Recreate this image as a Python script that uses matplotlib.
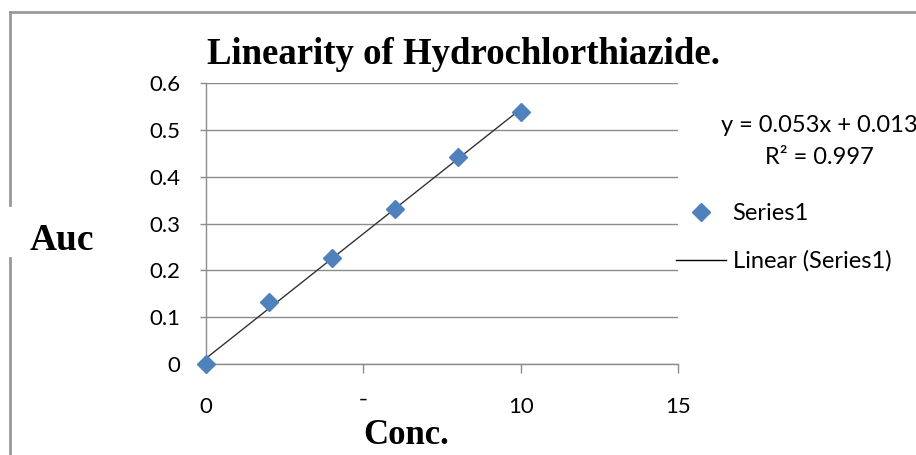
import numpy as np
import matplotlib
matplotlib.use("Agg")
import matplotlib.pyplot as plt
from matplotlib.lines import Line2D

# 데이터
conc = [0, 2, 4, 6, 8, 10]
auc = [0.0, 0.132, 0.226, 0.331, 0.442, 0.538]
x_ticks = [0, 5, 10, 15]
x_ticklabels = ["0", "\u00af", "10", "15"]
y_ticks = [0, 0.1, 0.2, 0.3, 0.4, 0.5, 0.6]
y_ticklabels = ["0", "0.1", "0.2", "0.3", "0.4", "0.5", "0.6"]
eq_text = "y = 0.053x + 0.013"
r2_text = "R\u00b2 = 0.997"

plt.rcParams['font.family'] = ['Lato', 'DejaVu Sans']
grid_c = "#8c8c8c"
blue = "#4F81BD"

fig = plt.figure(figsize=(9.16, 4.55), dpi=100)
ax = fig.add_axes([206/916, 1-364/455, (678-206)/916, (364-83)/455])

# 선형 회귀 (추세선)
slope, icpt = np.polyfit(conc, auc, 1)
xs = np.array([min(conc), max(conc)])
ax.plot(xs, slope*xs + icpt, color="#333333", lw=1.0, zorder=3)
ax.plot(conc, auc, linestyle="none", marker="D", ms=9.5, color=blue,
        markeredgecolor=blue, zorder=4, clip_on=False)

ax.set_xlim(0, 15)
ax.set_ylim(0, 0.6)
ax.set_xticks(x_ticks)
ax.set_xticklabels(x_ticklabels)
ax.set_yticks(y_ticks)
ax.set_yticklabels(y_ticklabels)
ax.tick_params(axis="x", direction="out", length=6.5, width=1, color=grid_c,
               pad=17, labelsize=16)
ax.tick_params(axis="y", direction="out", length=4.5, width=1, color=grid_c,
               pad=14, labelsize=16)
ax.yaxis.grid(True, color=grid_c, lw=1)
ax.set_axisbelow(True)
for s in ["top", "right"]:
    ax.spines[s].set_visible(False)
for s in ["left", "bottom"]:
    ax.spines[s].set_color(grid_c)
    ax.spines[s].set_linewidth(1)

# 제목, 축 이름
fig.text(464/916, 1-55/455, "Linearity of Hydrochlorthiazide.",
         family="Liberation Serif", weight="bold", fontsize=26.5,
         ha="center", va="center")
fig.text(62/916, 1-241/455, "Auc", family="Liberation Serif", weight="bold",
         fontsize=27, ha="center", va="center")
fig.text(406/916, 1-435/455, "Conc.", family="Liberation Serif", weight="bold",
         fontsize=25, ha="center", va="center")

# 추세선 식
fig.text(819/916, 1-126/455, eq_text, fontsize=17, ha="center", va="center")
fig.text(819/916, 1-157/455, r2_text, fontsize=17, ha="center", va="center")

# 범례
h1 = Line2D([], [], linestyle="none", marker="D", ms=9.5, color=blue)
h2 = Line2D([], [], color="black", lw=1)
fig.legend([h1, h2], ["Series1", "Linear (Series1)"], loc="upper left",
           bbox_to_anchor=(676/916, 1-203/455), frameon=False, fontsize=17,
           handlelength=2.1, handletextpad=0.3, labelspacing=1.12,
           borderpad=0, borderaxespad=0)

# 바깥 테두리
fig.add_artist(Line2D([10/916, 1], [1-12/455, 1-12/455], color="#999999", lw=2))
fig.add_artist(Line2D([10/916, 10/916], [1-12/455, 1-205/455], color="#999999", lw=2))
fig.add_artist(Line2D([10/916, 10/916], [1-258/455, 0], color="#999999", lw=2))

fig.savefig("out.png", dpi=100)
